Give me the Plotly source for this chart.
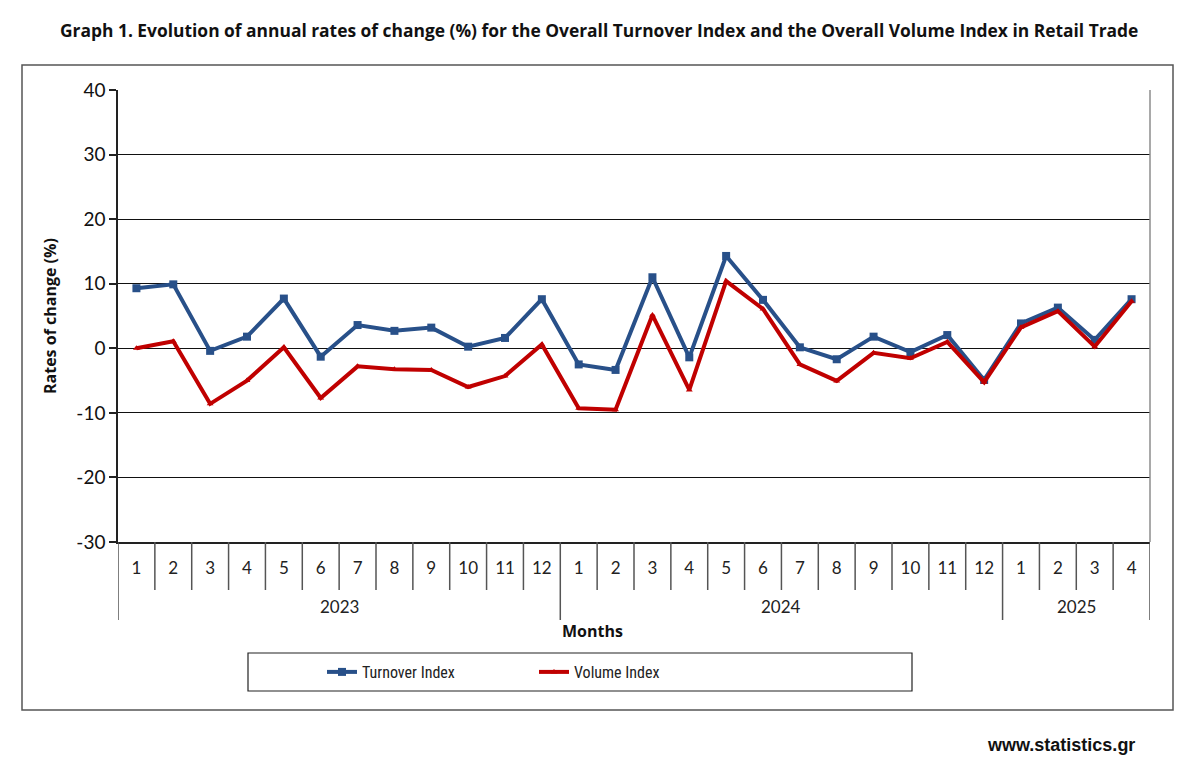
import plotly.graph_objects as go

# ---------------- data ----------------
years = ["2023"] * 12 + ["2024"] * 12 + ["2025"] * 4
months = [str(m) for m in range(1, 13)] + [str(m) for m in range(1, 13)] + [str(m) for m in range(1, 5)]

turnover = [9.3, 9.9, -0.4, 1.8, 7.7, -1.3, 3.6, 2.7, 3.2, 0.25, 1.6, 7.6,
            -2.5, -3.35, 11.0, -1.4, 14.3, 7.5, 0.15, -1.7, 1.8, -0.6, 2.05, -4.9,
            3.85, 6.3, 1.3, 7.6]
volume = [0.0, 1.1, -8.6, -5.0, 0.15, -7.7, -2.8, -3.25, -3.35, -6.0, -4.3, 0.6,
          -9.3, -9.5, 5.15, -6.45, 10.4, 6.1, -2.5, -5.05, -0.7, -1.55, 1.0, -5.25,
          3.25, 5.75, 0.25, 7.3]

y_ticks = [-30, -20, -10, 0, 10, 20, 30, 40]
y_tick_labels = ["-30", "-20", "-10", "0", "10", "20", "30", "40"]

TITLE = "Graph 1. Evolution of annual rates of change (%) for the Overall Turnover Index and the Overall Volume Index in Retail Trade"

# ---------------- layout geometry ----------------
W, H = 1200, 768
L, R, T, B = 118, 1150, 90, 542
PW, PH = R - L, B - T


def px(xp):
    return (xp - L) / PW


def py(yp):
    return (B - yp) / PH


FONT = "Lato, 'Open Sans', 'Noto Sans', sans-serif"
FONT_B = "'Open Sans', Lato, 'Noto Sans', sans-serif"
BLUE = "#285089"
RED = "#C00000"
n = len(months)
xs = list(range(1, n + 1))

fig = go.Figure()
fig.add_trace(go.Scatter(
    x=xs, y=turnover, name="Turnover Index", mode="lines+markers",
    line=dict(color=BLUE, width=4),
    marker=dict(symbol="square", size=8, color=BLUE),
))
fig.add_trace(go.Scatter(
    x=xs, y=volume, name="Volume Index", mode="lines+markers",
    line=dict(color=RED, width=4),
    marker=dict(symbol="triangle-up", size=6, color=RED),
))

shapes = []
# outer frame
shapes.append(dict(type="rect", xref="paper", yref="paper",
                   x0=px(22), x1=px(1173), y0=py(710), y1=py(65),
                   line=dict(color="#555555", width=1.5), layer="below"))
# plot-area right border
shapes.append(dict(type="line", xref="paper", yref="paper",
                   x0=1, x1=1, y0=0, y1=1, line=dict(color="#8c8c8c", width=1.5)))
# month separators and year dividers
for k in range(n + 1):
    xb = k + 0.5
    is_year_edge = (k == 0 or k == n or years[k] != years[k - 1])
    shapes.append(dict(type="line", xref="x", yref="paper",
                       x0=xb, x1=xb, y0=0, y1=py(620) if is_year_edge else py(590),
                       line=dict(color="#555555", width=1.5)))
# legend box
shapes.append(dict(type="rect", xref="paper", yref="paper",
                   x0=px(248), x1=px(912), y0=py(691), y1=py(653),
                   line=dict(color="#222222", width=1.2)))

annotations = []
# year labels
uniq_years = []
for y in years:
    if y not in uniq_years:
        uniq_years.append(y)
for yv in uniq_years:
    idx = [i + 1 for i, v in enumerate(years) if v == yv]
    annotations.append(dict(x=(idx[0] + idx[-1]) / 2, y=py(606), xref="x", yref="paper",
                            text=yv, showarrow=False, font=dict(size=17, color="#222", family=FONT),
                            xanchor="center", yanchor="middle"))
annotations.append(dict(x=px(592), y=py(631), xref="paper", yref="paper",
                        text="<b>Months</b>", showarrow=False,
                        font=dict(size=16, color="#111", family=FONT_B),
                        xanchor="center", yanchor="middle"))
annotations.append(dict(x=px(50), y=0.5, xref="paper", yref="paper",
                        text="<b>Rates of change (%)</b>", textangle=-90, showarrow=False,
                        font=dict(size=16, color="#111", family=FONT_B),
                        xanchor="center", yanchor="middle"))
annotations.append(dict(x=px(1137), y=py(745), xref="paper", yref="paper",
                        text="<b>www.statistics.gr</b>", showarrow=False,
                        font=dict(size=18, color="#111", family="'Liberation Sans', Arial, sans-serif"),
                        xanchor="right", yanchor="middle"))
annotations.append(dict(x=px(599), y=py(30), xref="paper", yref="paper",
                        text="<b>" + TITLE + "</b>", showarrow=False,
                        font=dict(size=17.4, color="#111", family=FONT_B),
                        xanchor="center", yanchor="middle"))

fig.update_layout(
    width=W, height=H,
    margin=dict(l=L, r=W - R, t=T, b=H - B),
    paper_bgcolor="white", plot_bgcolor="white",
    font=dict(family=FONT, color="#222"),
    shapes=shapes, annotations=annotations,
    showlegend=True,
    legend=dict(orientation="h", x=px(322), y=py(672), xanchor="left", yanchor="middle",
                bgcolor="rgba(0,0,0,0)", borderwidth=0,
                entrywidth=167, entrywidthmode="pixels",
                font=dict(size=16, color="#222",
                          family="'Liberation Sans Narrow', 'Roboto Condensed', Roboto, sans-serif")),
)
fig.update_xaxes(
    range=[0.5, n + 0.5], tickmode="array", tickvals=xs, ticktext=months,
    showgrid=False, zeroline=False, ticks="", showline=True, linecolor="#222", linewidth=1.5,
    tickfont=dict(size=17, color="#222", family=FONT), ticklabelstandoff=10,
)
fig.update_yaxes(
    range=[-30, 40], tickmode="array", tickvals=y_ticks, ticktext=y_tick_labels,
    showgrid=True, gridcolor="#111", gridwidth=1,
    zeroline=True, zerolinecolor="#111", zerolinewidth=1,
    showline=True, linecolor="#222", linewidth=1.5,
    ticks="outside", ticklen=7, tickcolor="#222", tickwidth=1.5,
    tickfont=dict(size=19, color="#111", family=FONT),
)

fig.write_html("out.html", config={"displayModeBar": False},
               post_script="document.body.style.margin='0';")
